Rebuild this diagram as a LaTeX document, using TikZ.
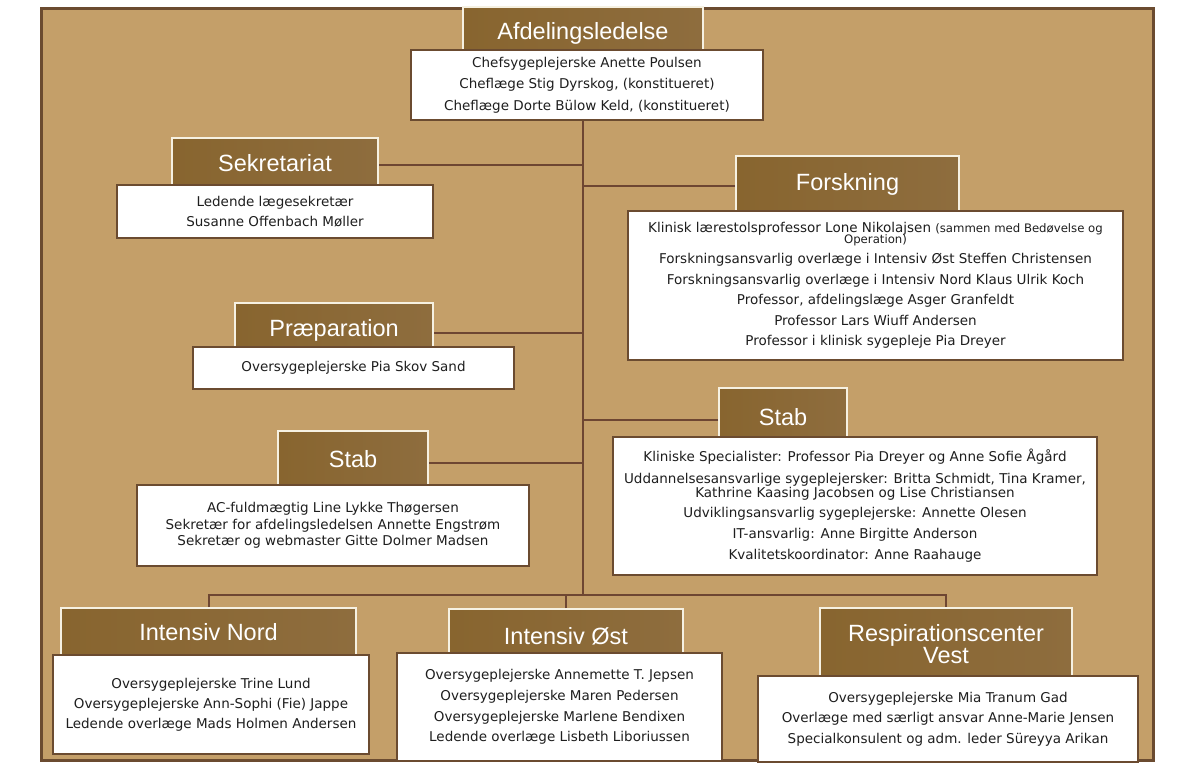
\documentclass[tikz,border=0pt]{standalone}
\usepackage{fontspec}
\setmainfont{DejaVu Sans}
\newfontfamily\titlefont{Liberation Sans}
\definecolor{framefill}{HTML}{C49F69}
\definecolor{brownline}{HTML}{6B4B30}
\definecolor{connc}{HTML}{6E4632}
\definecolor{ttlL}{HTML}{88652F}
\definecolor{ttlR}{HTML}{8E6D3E}
\definecolor{cream}{HTML}{F6F1E2}
\definecolor{textc}{HTML}{1E1E1E}
\newcommand{\smallf}{\fontsize{11.7}{12}\selectfont}
\tikzset{
  frame/.style={draw=brownline, line width=3pt, fill=framefill},
  ttl/.style={draw=cream, line width=2pt, left color=ttlL, right color=ttlR, text=white,
    font=\titlefont\fontsize{23.5}{22}\selectfont, inner sep=0pt, align=center},
  body/.style={draw=brownline, line width=2.5pt, fill=white, text=textc,
    font=\fontsize{13.5}{20.5}\selectfont, align=center, inner sep=0pt},
  conn/.style={draw=connc, line width=2pt},
}
\begin{document}
\begin{tikzpicture}[x=1pt,y=-1pt]
\useasboundingbox (0,0) rectangle (1187,770);
\fill[white] (0,0) rectangle (1187,770);
\draw[frame] (41.5,8.5) rectangle (1153.5,760.5);

% connector anchors
\coordinate (trunkTop) at (583,118);
\coordinate (bus) at (583,595);

% titles
\node[ttl, minimum width=240, minimum height=52] (afdT) at (583,33) {Afdelingsledelse};
\node[ttl, minimum width=206, minimum height=50] (sekT) at (275,163) {Sekretariat};
\node[ttl, minimum width=223, minimum height=56] (forT) at (847.5,184) {Forskning};
\node[ttl, minimum width=198, minimum height=54] (praT) at (334,330) {Præparation};
\node[ttl, minimum width=150, minimum height=56] (stLT) at (353,459) {Stab};
\node[ttl, minimum width=128, minimum height=58] (stRT) at (783,417) {Stab};
\node[ttl, minimum width=295, minimum height=48] (norT) at (208.5,632) {Intensiv Nord};
\node[ttl, minimum width=234, minimum height=54] (ostT) at (566,636) {Intensiv Øst};
\node[ttl, minimum width=252, minimum height=72] (resT) at (946,644) {Respirationscenter\\Vest};

% connectors
\draw[conn] (trunkTop) -- (bus);
\draw[conn] ([yshift=-2pt]sekT.east) -- ([yshift=-2pt]sekT.east -| trunkTop);
\draw[conn] ([yshift=-2pt]forT.west) -- ([yshift=-2pt]forT.west -| trunkTop);
\draw[conn] ([yshift=-3pt]praT.east) -- ([yshift=-3pt]praT.east -| trunkTop);
\draw[conn] ([yshift=-4pt]stLT.east) -- ([yshift=-4pt]stLT.east -| trunkTop);
\draw[conn] ([yshift=-3pt]stRT.west) -- ([yshift=-3pt]stRT.west -| trunkTop);
\draw[conn] (norT.north) |- (bus) -| (resT.north);
\draw[conn] (ostT.north) -- (ostT.north |- bus);

% bodies
\node[body, minimum width=352, minimum height=70, font=\fontsize{13.5}{21.5}\selectfont] (afdB) at (587,85)
  {Chefsygeplejerske Anette Poulsen\\Cheflæge Stig Dyrskog, (konstitueret)\\Cheflæge Dorte Bülow Keld, (konstitueret)};
\node[body, minimum width=316, minimum height=53, font=\fontsize{13.5}{20}\selectfont] (sekB) at (275,211.5)
  {Ledende lægesekretær\\Susanne Offenbach Møller};
\node[body, minimum width=495, minimum height=149] (forB) at (875.5,285.5)
  {Klinisk lærestolsprofessor Lone Nikolajsen {\smallf (sammen med Bedøvelse og}\\[-10pt]
   {\smallf Operation)}\\
   Forskningsansvarlig overlæge i Intensiv Øst Steffen Christensen\\
   Forskningsansvarlig overlæge i Intensiv Nord Klaus Ulrik Koch\\
   Professor, afdelingslæge Asger Granfeldt\\
   Professor Lars Wiuff Andersen\\
   Professor i klinisk sygepleje Pia Dreyer};
\node[body, minimum width=321, minimum height=42] (praB) at (353.5,368)
  {Oversygeplejerske Pia Skov Sand};
\node[body, minimum width=392, minimum height=81, font=\fontsize{13.5}{16.5}\selectfont] (stLB) at (333,525.5)
  {AC-fuldmægtig Line Lykke Thøgersen\\Sekretær for afdelingsledelsen Annette Engstrøm\\Sekretær og webmaster Gitte Dolmer Madsen};
\node[body, minimum width=484, minimum height=138, font=\fontsize{13.5}{21}\selectfont] (stRB) at (855,506)
  {Kliniske Specialister: Professor Pia Dreyer og Anne Sofie Ågård\\[1pt]
   Uddannelsesansvarlige sygeplejersker: Britta Schmidt, Tina Kramer,\\[-7pt]
   Kathrine Kaasing Jacobsen og Lise Christiansen\\[-1pt]
   Udviklingsansvarlig sygeplejerske: Annette Olesen\\
   IT-ansvarlig: Anne Birgitte Anderson\\
   Kvalitetskoordinator: Anne Raahauge};
\node[body, minimum width=316, minimum height=99, font=\fontsize{13.5}{20}\selectfont] (norB) at (211,704.5)
  {Oversygeplejerske Trine Lund\\Oversygeplejerske Ann-Sophi (Fie) Jappe\\Ledende overlæge Mads Holmen Andersen};
\node[body, minimum width=325, minimum height=108, font=\fontsize{13.5}{20.7}\selectfont] (ostB) at (559.5,707)
  {Oversygeplejerske Annemette T. Jepsen\\Oversygeplejerske Maren Pedersen\\Oversygeplejerske Marlene Bendixen\\Ledende overlæge Lisbeth Liboriussen};
\node[body, minimum width=380, minimum height=86] (resB) at (948,719)
  {Oversygeplejerske Mia Tranum Gad\\Overlæge med særligt ansvar Anne-Marie Jensen\\Specialkonsulent og adm. leder Süreyya Arikan};
\end{tikzpicture}
\end{document}
